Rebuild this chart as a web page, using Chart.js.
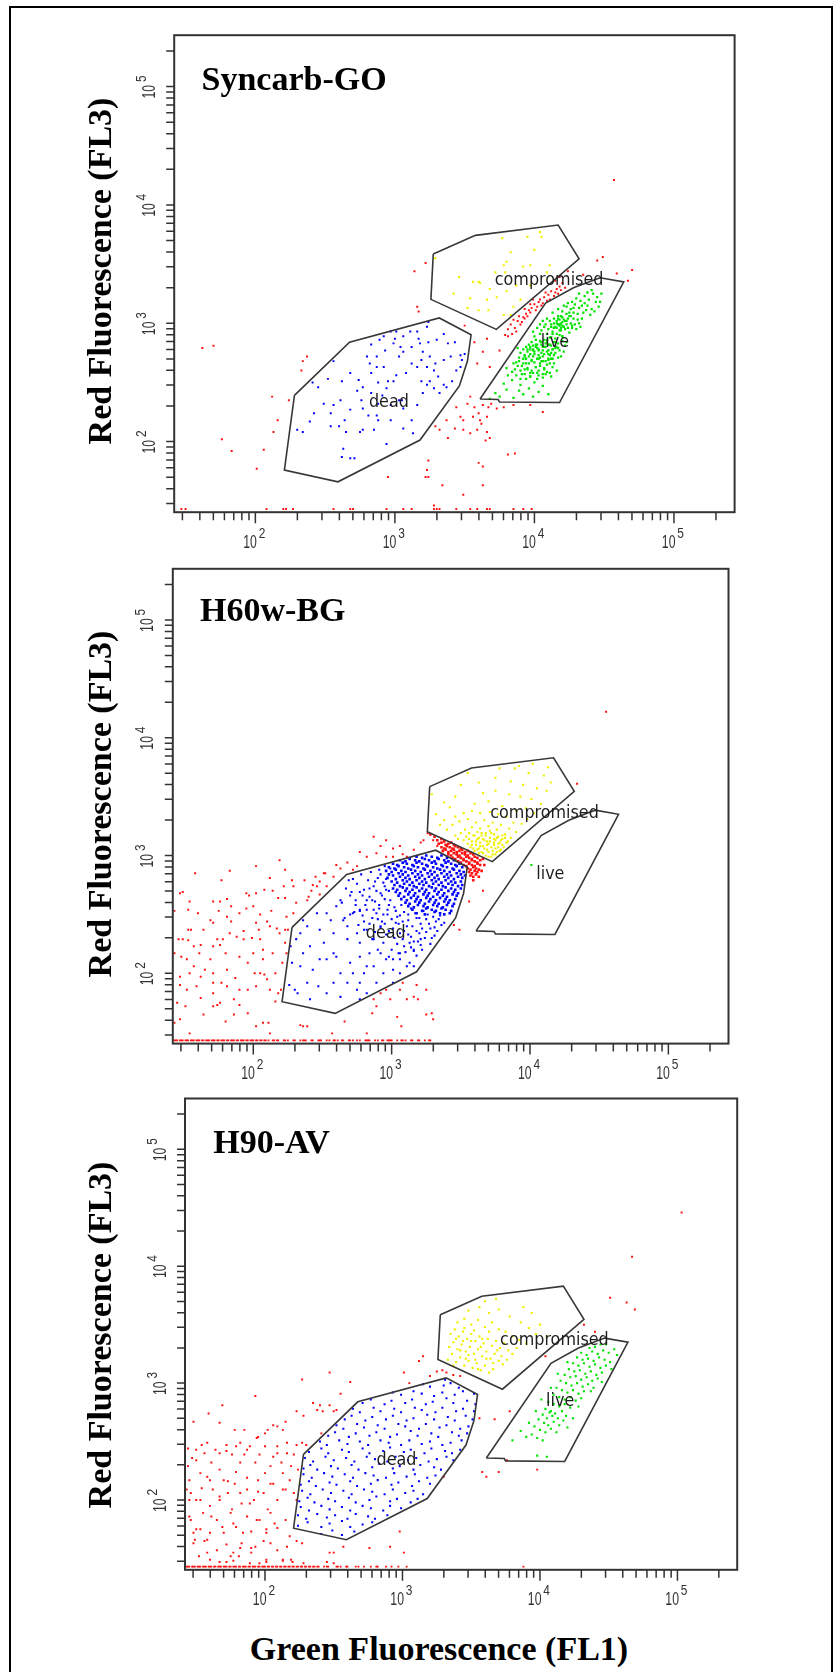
<!DOCTYPE html>
<html><head><meta charset="utf-8">
<script src="https://cdn.jsdelivr.net/npm/chart.js@4.4.1/dist/chart.umd.min.js"></script>
<style>
html,body{margin:0;padding:0;background:#fff;}
body{width:834px;height:1672px;position:relative;overflow:hidden;}
.border{position:absolute;left:9px;top:6px;width:820px;height:1700px;border:2px solid #000;border-bottom:none;}
canvas{position:absolute;left:0;}
.ttl{position:absolute;font-family:"Liberation Serif","Times New Roman",serif;font-weight:bold;font-size:34px;line-height:34px;white-space:nowrap;color:#000;}
.ylab{transform:translate(-50%,-50%) rotate(-90deg);}
.xlab{transform:translateX(-50%);}
</style></head>
<body>
<div class="border"></div>
<canvas id="c1" width="834" height="570" style="top:0px"></canvas>
<canvas id="c2" width="834" height="545" style="top:550px"></canvas>
<canvas id="c3" width="834" height="530" style="top:1095px"></canvas>
<div class="ttl" style="left:201.5px;top:61.5px">Syncarb-GO</div>
<div class="ttl" style="left:200px;top:593.2px">H60w-BG</div>
<div class="ttl" style="left:213.3px;top:1124.8px">H90-AV</div>
<div class="ttl ylab" style="left:99.5px;top:270.5px">Red Fluorescence (FL3)</div>
<div class="ttl ylab" style="left:99.5px;top:804px">Red Fluorescence (FL3)</div>
<div class="ttl ylab" style="left:99.5px;top:1335px">Red Fluorescence (FL3)</div>
<div class="ttl xlab" style="left:439px;top:1631.5px">Green Fluorescence (FL1)</div>
<script>
// ---- axis settings (values in fluorescence units) ----
const X_MIN = 26.2, Y_MIN = 25.3, AX_MAX = 272000;
const tickExponents = [2, 3, 4, 5];
const tickMultipliers = [1, 2, 3, 4, 5, 6, 7, 8, 9];
const tickDecades = [1, 2, 3, 4, 5];

// ---- gates: vertices as log10(value) ----
const gateDead = [[2.280,2.390],[2.675,2.840],[3.318,3.045],[3.546,2.903],[3.520,2.680],[3.462,2.470],[3.180,2.013],[2.592,1.660],[2.208,1.759]];
const gateCompromised = [[3.275,3.585],[3.577,3.743],[4.170,3.830],[4.320,3.545],[3.727,2.948],[3.258,3.202]];
const gateLive = [[3.610,2.360],[3.740,2.355],[3.750,2.335],[4.180,2.330],[4.640,3.350],[4.470,3.385],[4.280,3.300],[4.080,3.170]];
const gateLabels = [["compromised",4.105,3.322],["dead",2.957,2.296],["live",4.147,2.801]];

// ---- events: pairs of 100*log10(FL1), 100*log10(FL3) ----
const floorLog = 143;
// Panel 1 : Syncarb-GO
const p1Green = [368,236,372,241,375,238,380,244,378,249,385,237,389,243,392,240,384,252,390,248,396,245,399,238,403,242,394,253,387,256,381,256,400,250,406,247,410,240,397,258,
380,262,384,259,388,264,391,257,393,261,396,266,398,260,401,263,403,256,405,268,407,261,409,265,411,258,413,263,389,268,394,270,399,272,402,258,406,254,400,267,404,271,408,257,395,262,392,266,386,261,410,269,412,255,416,260,397,255,404,264,398,269,402,253,390,253,414,266,385,266,
390,275,393,272,395,278,397,274,399,281,400,276,402,279,403,273,405,282,406,277,407,274,408,280,409,284,410,277,411,273,412,281,413,278,414,284,415,275,416,280,417,283,418,277,419,272,420,285,398,284,401,286,404,285,396,282,394,280,392,278,388,279,410,270,406,268,403,270,413,270,417,271,421,276,422,281,407,286,411,288,415,287,418,290,400,289,404,291,409,291,413,293,420,289,423,284,405,275,409,276,412,275,402,282,408,283,415,279,397,278,399,278,401,280,403,277,406,280,410,282,
399,293,402,296,405,294,407,297,410,295,412,299,414,296,416,300,418,294,420,298,422,302,424,296,426,300,428,304,411,302,414,304,417,306,420,305,423,308,426,306,429,299,431,303,408,299,404,299,413,291,419,300,421,297,425,292,427,296,430,295,432,300,434,304,415,297,416,302,418,303,412,297,422,295,409,304,424,304,433,297,418,298,420,301,416,296,414,300,419,296,421,303,417,299,423,299,406,302,428,309,
413,309,417,312,420,310,423,314,426,312,429,316,432,313,435,309,438,315,441,312,444,318,427,318,430,321,433,319,436,323,439,320,442,325,424,317,421,315,419,306,425,309,431,308,437,311,434,315,440,307,443,310,446,314,428,313,432,325,436,317,445,322,447,318,438,326,441,328,448,325,
392,270,394,266,396,272,398,268,400,274,402,270,404,266,406,272,408,268,410,274,412,270,395,276,397,280,399,277,401,282,403,278,405,284,407,280,409,286,411,282,413,278,415,284,401,263,403,260,399,258,395,261,391,264,407,262,411,266,414,273,417,279,412,288,416,291,419,294,414,296,418,299,421,297,423,302,417,304,425,306,427,298,420,289,393,273,389,271,387,267,406,257,409,259,397,255,393,257,390,260];
const p1Yellow = [329,355,346,339,356,335,360,335,361,334,372,343,377,372,383,360,378,349,379,343,392,348,397,349,400,362,404,377,387,332,390,320,385,314,367,311,360,311,352,313,342,325,354,321,373,322,380,327,368,329,397,332,409,343,411,349,405,373,395,373,380,352,383,307,378,307,366,320];
const p1Blue = [301,293,306,289,300,287,311,293,323,297,324,301,292,289,289,286,283,282,299,283,293,277,303,272,318,283,324,284,330,286,320,276,325,272,329,266,323,263,319,269,316,263,335,269,340,272,347,273,348,269,328,260,331,255,325,251,319,251,323,248,335,248,328,245,320,241,316,231,306,228,303,235,295,251,299,251,288,250,287,263,292,263,282,266,283,258,294,245,274,252,277,246,273,243,262,251,252,253,256,268,241,250,256,231,277,228,281,222,287,222,288,232,297,218,306,211,294,198,285,210,277,210,275,208,265,208,260,213,254,213,234,208,230,210,239,217,263,194,262,187,268,186,271,186,312,218,313,207,305,235,332,241,337,246,341,251,301,256,308,258,312,266,306,276,304,280,312,280,297,293,335,291,338,283,343,284,350,274,347,263,344,260,316,293,317,287,287,272,280,272,268,258,261,235,245,246,249,232,242,224,254,224,264,218,268,227,276,235,283,241,291,239,297,231,288,218];
const p1Red = [383,299,386,296,388,302,390,299,392,305,385,303,389,306,391,301,394,308,396,311,393,304,395,306,398,313,400,316,397,309,401,311,403,318,405,315,402,314,404,320,407,322,409,319,406,317,410,324,412,327,414,323,411,320,416,329,418,331,415,326,420,334,422,330,419,328,417,325,387,293,384,291,381,295,379,290,399,320,408,326,
354,238,357,229,363,231,367,229,369,232,378,229,360,224,347,221,349,218,356,221,362,215,337,218,343,211,349,210,354,207,359,210,366,208,332,210,329,213,338,203,365,201,368,203,361,218,366,221,373,228,344,229,352,232,357,284,366,287,363,276,350,298,359,266,368,263,381,289,375,277,386,190,381,189,360,182,363,179,324,184,323,176,324,170,322,170,334,163,363,163,349,155,328,146,295,170,206,193,201,177,212,238,216,218,213,208,224,235,237,272,234,268,233,260,316,314,317,310,314,344,322,351,406,225,397,231,385,231,435,341,445,353,449,356,459,342,467,336,470,345,418,339,424,344,415,336,393,312,397,316,162,279,170,281,176,202,183,192,457,421];
const p1FloorX = [147,150,208,220,222,227,256,268,270,294,306,312,328,330,332,344,354,359,366,368,385,392,398];

// Panel 2 : H60w-BG
const p2BlueCore = [318,299,322,298,325,300,329,299,333,298,336,300,340,298,
306,296,310,295,313,297,317,296,320,295,324,297,327,296,331,295,334,297,338,296,341,295,345,296,
301,293,304,292,308,294,311,293,315,292,318,294,322,293,325,292,329,294,332,293,336,292,339,294,343,293,346,292,349,293,
298,290,302,289,305,291,309,290,312,289,316,291,319,290,323,289,326,291,330,290,333,289,337,291,340,290,344,289,347,291,351,290,
296,287,300,286,303,288,307,287,310,286,314,288,317,287,321,286,324,288,328,287,331,286,335,288,338,287,342,286,345,288,349,287,352,286,
298,284,301,283,305,285,308,284,312,283,315,285,319,284,322,283,326,285,329,284,333,283,336,285,340,284,343,283,347,285,350,284,353,283,
297,281,303,280,306,282,310,281,313,280,317,282,320,281,324,280,327,282,331,281,334,280,338,282,341,281,345,280,348,282,351,281,
300,278,304,277,308,279,311,278,315,277,318,279,322,278,325,277,329,279,332,278,336,277,339,279,343,278,346,277,350,278,
302,275,306,274,309,276,313,275,316,274,320,276,323,275,327,274,330,276,334,275,337,274,341,276,344,275,348,274,351,275,
301,272,304,271,308,273,311,272,315,271,318,273,322,272,325,271,329,273,332,272,336,271,339,273,343,272,346,271,350,272,
303,269,306,268,310,270,313,269,317,268,320,270,324,269,327,268,331,270,334,269,338,268,341,270,345,269,348,268,
305,266,309,265,312,267,316,266,319,265,323,267,326,266,330,265,333,267,337,266,340,265,344,267,347,266,
307,263,311,262,314,264,318,263,321,262,325,264,328,263,332,262,335,264,339,263,342,262,346,263,
310,260,313,259,317,261,320,260,324,259,327,261,331,260,334,259,338,261,341,260,345,259,
312,257,316,256,319,258,323,257,326,256,330,258,333,257,337,256,340,258,344,257,
315,254,322,253,325,255,329,254,332,253,336,255,339,254,343,253,
318,251,324,250,331,252,335,251,338,250,342,251];
const p2Blue = [272,280,275,276,278,284,280,271,283,279,285,286,287,274,290,281,292,268,294,277,296,271,270,266,274,262,277,269,281,258,284,265,288,261,291,255,295,263,298,258,273,252,279,249,282,254,286,247,289,251,293,244,297,250,300,246,303,253,306,249,276,241,280,237,284,242,288,235,292,239,296,233,301,238,305,242,309,236,312,245,315,240,318,247,321,242,325,246,328,238,332,244,335,249,338,243,308,229,312,233,316,227,320,234,324,230,328,225,331,232,304,225,300,220,310,218,314,222,318,215,322,220,294,226,298,214,306,212,290,220,286,229,270,250,267,272,269,279,264,260,266,247,299,289,295,291,291,288,
226,190,228,209,227,223,231,229,234,206,239,192,246,251,248,237,251,226,253,251,253,212,258,234,260,214,263,262,265,245,268,229,270,209,272,251,275,234,277,214,280,200,282,183,284,217,287,206,289,192,292,217,294,200,301,212,306,217,311,206,316,220,321,229,268,192,258,192,247,189,236,217,230,186,232,183,241,178,253,183,263,200,272,200,277,192,282,206,301,192,306,200,313,209,277,226,287,229,282,237,268,240,258,217,248,212,241,223,239,240,234,234,260,257,256,245,243,203,275,186,263,180,301,203,292,240,277,254,316,206,296,212,277,178,236,245,
286,262,289,270,291,258,293,266,295,274,297,254,299,262,298,270,294,250,290,246,287,254,284,272,288,278,292,284,296,280,282,262,302,256,304,248,307,258,309,252,303,243,308,244,312,250,314,255,317,251,320,247,323,253,326,250,330,248,334,246,336,241,331,239,327,242,322,238,318,236,314,231,311,240,306,234,302,230,298,236,295,242,319,227,325,235,329,230,333,236,313,226,309,223,305,217,316,219,321,224,280,244,277,253,274,258,279,266,271,269];
const p2Yellow = [355,310,357,307,358,312,360,304,361,309,362,314,363,306,364,311,365,303,366,308,367,313,368,300,369,305,370,310,371,315,372,299,373,304,374,309,375,313,376,303,377,307,378,311,379,305,380,309,352,313,354,316,356,319,359,317,362,320,365,317,368,319,371,321,374,318,377,316,380,314,383,311,350,319,348,314,346,317,353,322,358,324,364,323,370,325,376,322,382,318,386,315,366,302,370,299,363,302,375,301,
340,322,344,326,349,329,355,331,361,328,367,330,373,328,379,326,385,323,390,320,388,328,394,327,398,331,383,333,377,335,371,337,364,336,358,338,352,336,346,333,338,330,335,326,342,341,360,344,370,346,380,342,390,338,397,340,403,336,408,344,401,348,393,350,385,352,375,355,366,353,
350,360,363,362,375,366,386,363,395,360,405,357,412,355,415,362,410,368,399,370,389,374,378,374,346,350,338,345,402,378,413,375,392,376,332,335,329,352,355,370,
359,306,361,312,362,305,364,308,366,314,367,306,369,309,370,303,371,312,372,307,373,301,374,311,375,306,376,315,377,310,378,304,379,313,381,307,382,315,384,312,368,317,365,319,372,319,360,317,356,314,363,315,369,312,374,314,380,317,358,309];
const p2Green = [401,292];
const p2RedCluster = [333,313,336,314,338,312,334,310,336,311,339,309,341,310,343,311,345,309,336,307,338,306,340,308,342,307,344,306,346,308,348,307,350,306,337,304,339,305,341,303,343,304,345,305,347,303,349,304,351,305,353,303,355,304,341,301,343,300,345,302,347,301,349,300,351,302,353,301,355,300,357,302,359,301,344,298,346,297,348,299,350,298,352,297,354,299,356,298,358,297,360,299,362,298,348,295,350,294,352,296,354,295,356,294,358,296,360,295,362,294,364,296,352,292,354,291,356,293,358,292,360,291,362,293,364,292,355,289,357,288,359,290,361,289,363,288,356,286,358,285,360,287,362,286,357,283,359,282,361,284,331,316,328,318,366,297,367,292,365,287,363,282,359,279];
const p2Red = [239,262,242,270,246,274,248,278,251,285,245,282,237,279,240,265,248,267,253,274,258,282,263,289,268,294,275,291,277,303,287,316,292,308,296,299,301,306,306,308,311,299,316,305,321,311,326,319,323,313,330,313,333,308,296,313,308,301,301,299,282,299,289,302,272,288,260,292,252,285,243,275,219,296,223,288,202,291,183,287,177,279,158,285,147,268,149,269,154,261,143,253,164,237,155,237,171,261,175,253,181,263,184,244,190,251,195,268,197,266,200,257,204,237,205,250,208,271,210,244,213,253,214,270,217,238,219,234,223,237,225,237,224,248,229,251,231,260,229,274,218,264,205,229,196,209,190,214,187,196,181,189,177,192,171,192,169,212,165,203,161,217,157,223,153,237,152,212,147,197,145,175,147,161,143,158,154,149,164,165,176,175,180,159,186,165,190,173,196,186,201,200,205,200,208,199,212,186,216,176,218,183,220,186,224,217,221,209,214,217,207,220,200,217,193,229,188,231,183,234,178,229,174,229,169,245,160,251,149,229,146,229,143,217,157,206,171,172,202,155,211,158,212,149,236,155,239,155,257,149,266,159,282,149,286,166,304,163,307,155,316,180,325,186,318,190,325,165,306,186,329,166,330,161,319,178,311,178,345,241,349,237,356,261,366,270,434,361,455,422,
212,281,176,261,202,268,222,274,228,279,223,264,195,255,184,257,181,248,171,243,153,254,153,228,162,224,171,223,176,224,180,217,193,236,199,230,202,243,212,240,223,226,207,212,181,203,171,200,162,197,154,200,148,214,147,190,152,186,159,189,162,179,171,183,186,178,190,186,202,189,210,195,216,200,151,172,174,173,196,166,207,158,234,156,299,178,289,172,292,183,287,178,296,186,308,192];
const p2FloorX = [143,144,145,147,148,149,151,152,153,155,156,157,159,160,161,163,164,166,167,168,170,171,172,174,175,177,178,179,181,182,184,185,186,188,189,191,192,193,195,196,198,199,200,202,203,205,206,208,209,211,214,215,217,218,222,223,225,229,230,234,236,237,238,242,243,247,248,249,253,255,258,259,261,264,265,269,270,272,275,277,281,282,283,284,288,290,293,294,297,298,299,300,304,307,308,310,314,315,319,320,324,327,328];

// Panel 3 : H90-AV
const p3Green = [430,326,434,324,438,327,442,325,446,328,450,326,454,329,427,322,431,320,435,321,439,319,443,322,447,320,451,318,424,317,428,315,432,317,436,314,440,316,444,313,448,315,421,312,425,310,429,311,433,308,437,310,441,307,445,309,418,307,422,305,426,306,430,303,434,305,438,302,442,304,415,302,419,300,423,298,427,300,431,297,435,299,439,296,412,296,416,294,420,292,424,294,428,291,432,293,410,290,414,288,418,286,422,288,426,285,430,287,406,284,410,282,414,280,418,282,422,279,404,278,407,275,409,272,402,273,405,270,408,276,411,274,413,270,416,276,419,272,399,269,403,266,406,264,410,267,414,264,417,268,396,263,400,260,404,258,408,261,412,258,394,256,398,253,402,251,390,254,386,259,392,266,397,276,401,286,408,296,413,308,420,318,398,238,405,237,380,251,436,330,444,333,440,331,448,333,456,324,452,312,445,301,437,293,428,280,424,270,420,262];
const p3Yellow = [333,320,336,325,339,318,342,322,345,315,348,319,351,313,354,317,357,311,360,315,363,309,366,312,334,331,337,335,340,329,343,333,346,327,349,331,352,325,355,329,358,323,361,327,364,321,367,325,370,319,373,316,335,342,338,346,341,340,344,344,347,338,350,342,353,336,356,340,359,334,362,338,365,332,368,336,371,330,374,334,377,328,380,325,340,352,345,355,350,350,355,354,360,348,365,352,370,346,375,344,380,340,385,337,348,362,356,365,363,360,370,363,378,357,386,352,392,347,397,342,360,370,368,372,345,347,352,345,348,324,344,336,357,331,353,320,346,321,339,338,363,344,358,338,366,317,369,328,361,321,350,336,342,328,337,315,355,312,372,323,376,320,383,330,390,334,400,350,405,340,394,360,388,365];
const p3Blue = [241,171,249,174,256,170,265,173,
224,178,231,181,241,177,247,180,256,182,262,177,271,179,278,181,
224,187,230,184,238,188,245,185,251,187,260,184,266,188,275,186,280,184,289,187,
226,194,232,191,241,195,247,192,256,194,262,191,271,195,277,193,286,191,291,195,299,193,
225,199,231,202,236,198,246,201,251,199,261,202,266,198,276,200,281,203,291,199,296,201,306,198,311,201,
227,208,233,205,242,209,248,206,257,208,263,205,272,209,278,207,287,205,293,209,302,206,308,208,315,205,
226,213,232,216,237,212,247,215,252,213,262,216,267,212,277,214,282,217,292,213,297,215,307,212,312,216,320,214,
228,222,234,219,243,223,249,220,258,222,264,219,273,223,279,221,288,219,294,223,303,220,309,222,318,219,324,221,
228,227,233,230,238,226,248,229,253,227,263,230,268,226,278,228,283,231,293,227,298,229,308,226,313,230,323,228,328,226,
229,236,235,233,244,237,250,234,259,236,265,233,274,237,280,235,289,233,295,237,304,234,310,236,319,233,325,235,332,237,337,234,
232,241,241,244,246,240,256,243,261,241,271,244,276,240,286,242,291,245,301,241,306,243,316,240,321,244,331,242,336,240,342,243,
240,250,245,247,254,251,260,248,269,250,275,247,284,251,290,249,299,247,305,251,314,248,320,250,329,247,335,249,343,251,
246,255,251,258,261,254,266,257,276,255,281,258,291,254,296,256,306,259,311,255,321,257,326,254,336,258,341,255,347,257,
252,264,257,261,267,265,272,262,282,264,287,261,297,265,302,263,312,261,317,265,327,262,332,264,342,261,348,263,
258,269,263,272,273,268,278,271,288,269,293,272,303,268,308,270,318,273,323,269,333,271,338,268,346,272,351,269,
264,278,269,275,279,279,284,276,294,278,299,275,309,279,314,277,324,275,329,279,339,276,344,278,352,276,
271,283,277,286,287,282,292,285,302,283,307,286,317,282,322,284,332,287,337,283,347,285,353,282,
293,292,299,290,308,293,314,291,323,289,329,292,338,290,344,293,352,291,
315,299,320,297,330,298,335,300,341,296,331,303];
const p3Red = [148,267,159,274,169,281,167,266,178,260,185,260,193,289,195,254,202,260,209,263,215,267,223,276,227,303,228,272,235,283,238,277,242,276,247,309,247,281,252,277,255,291,262,301,230,247,227,249,241,257,
141,229,144,229,147,236,150,243,154,247,156,240,161,232,167,240,172,247,176,239,179,246,182,232,185,239,189,246,193,232,196,239,200,246,204,229,206,237,209,246,212,232,216,240,219,229,223,247,
143,209,145,217,150,200,154,210,158,220,162,209,167,200,170,217,173,206,178,214,183,197,187,209,192,200,195,217,199,206,204,214,209,200,213,209,218,217,221,206,224,226,223,200,
145,186,150,175,155,189,160,172,165,183,170,172,175,189,179,177,183,163,187,186,190,173,196,183,201,172,204,189,209,176,215,183,218,169,156,165,165,157,175,152,182,159,193,160,201,149,213,149,219,149,167,147,177,155,145,200,148,172,149,166,158,155,190,155,196,146,204,163,209,157,223,165,216,160,227,163,
247,155,257,160,250,146,276,159,298,173,291,160,301,155,301,309,305,300,312,319,315,323,320,306,325,310,329,311,332,309,337,307,342,306,356,270,378,276,367,269,358,224,361,220,370,224,398,226,330,220,404,323,432,350,440,344,451,373,463,369,469,363,467,408,503,446,376,234,
200,257,206,264,213,260,240,281,250,276,144,244,150,234,158,249,164,243,172,242,182,249,187,243,194,253,209,240,216,249,221,239,153,223,160,217,167,226,173,216,179,224,187,219,200,223,206,214,213,223,146,206,153,200,160,195,167,203,176,192,182,206,189,197,195,207,202,192,215,209,146,183,153,175,161,186,169,177,177,180,184,172,194,183,201,175,207,180,148,163,158,166,172,162,181,152,190,159,199,165,152,152,160,149,250,155,
172,147,177,148,189,146,201,147,213,148,220,147,228,146,245,147];
const p3FloorX = [143,144,145,147,148,149,151,152,153,155,156,157,159,160,161,163,164,166,167,168,170,171,172,174,175,177,178,179,181,182,184,185,186,188,189,191,192,193,195,196,198,199,200,202,203,205,206,208,209,211,212,214,215,217,218,220,221,223,224,226,227,229,230,232,233,235,236,238,239,243,245,246,252,253,255,259,260,266,268,272,277,281,282,288,292,297,303,388];

// ---- colours ----
const C_RED = '#ff1010', C_BLUE = '#0000ff', C_GREEN = '#00e400', C_YELLOW = '#f0f000', C_GATE = '#383838';

// ---- builders ----
const L = v => Math.pow(10, v / 100);
function pairs(a) { const o = []; for (let i = 0; i + 1 < a.length; i += 2) o.push({x: L(a[i]), y: L(a[i + 1])}); return o; }
function floorPts(xs) { return xs.map(v => ({x: L(v), y: L(floorLog)})); }
function gatePts(g) { return g.concat([g[0]]).map(p => ({x: Math.pow(10, p[0]), y: Math.pow(10, p[1])})); }
function pts(data, color, r, order) {
  return {data, pointStyle: 'rect', pointRadius: r, pointHoverRadius: r, pointBackgroundColor: color, pointBorderWidth: 0, showLine: false, order};
}
function gateDs(g) {
  return {data: gatePts(g), showLine: true, borderColor: C_GATE, borderWidth: 1.6, pointRadius: 0, pointHoverRadius: 0, fill: false, tension: 0, order: 0};
}

const FONT_T = '"Liberation Sans", Arial, sans-serif';
function xTickLabel(ctx, px, base, exp) {
  ctx.save(); ctx.translate(px, base); ctx.fillStyle = '#333';
  ctx.save(); ctx.scale(0.68, 1); ctx.font = '18px ' + FONT_T; ctx.textAlign = 'right'; ctx.textBaseline = 'alphabetic'; ctx.fillText('10', 1.5 / 0.68, 35.5); ctx.restore();
  ctx.save(); ctx.scale(0.85, 1); ctx.font = '14px ' + FONT_T; ctx.textAlign = 'left'; ctx.textBaseline = 'alphabetic'; ctx.fillText(String(exp), 3.4 / 0.85, 25.5); ctx.restore();
  ctx.restore();
}
function yTickLabel(ctx, left, py, exp) {
  ctx.save(); ctx.translate(left - 19.5, py); ctx.rotate(-Math.PI / 2); ctx.fillStyle = '#333';
  ctx.save(); ctx.scale(0.68, 1); ctx.font = '18px ' + FONT_T; ctx.textAlign = 'right'; ctx.textBaseline = 'alphabetic'; ctx.fillText('10', 1.7 / 0.68, 0); ctx.restore();
  ctx.save(); ctx.scale(0.85, 1); ctx.font = '14px ' + FONT_T; ctx.textAlign = 'left'; ctx.textBaseline = 'alphabetic'; ctx.fillText(String(exp), 4.5 / 0.85, -8.3); ctx.restore();
  ctx.restore();
}

const fcsAxes = {
  id: 'fcsAxes',
  afterDraw(chart) {
    const {ctx, chartArea: a} = chart;
    const sx = chart.scales.x, sy = chart.scales.y;
    ctx.save();
    ctx.fillStyle = '#1e1e1e';
    ctx.font = '17px "DejaVu Sans", Verdana, sans-serif';
    ctx.textAlign = 'center'; ctx.textBaseline = 'alphabetic';
    gateLabels.forEach(([t, lx, ly]) => {
      const px = sx.getPixelForValue(Math.pow(10, lx)), py = sy.getPixelForValue(Math.pow(10, ly));
      ctx.save(); ctx.translate(px, py); ctx.scale(0.94, 1); ctx.fillText(t, 0, 0); ctx.restore();
    });
    ctx.strokeStyle = '#333'; ctx.lineWidth = 2;
    ctx.strokeRect(a.left, a.top, a.right - a.left, a.bottom - a.top);
    ctx.lineWidth = 1.5; ctx.beginPath();
    tickDecades.forEach(d => tickMultipliers.forEach(k => {
      const v = k * Math.pow(10, d);
      if (v > X_MIN && v < AX_MAX) {
        const px = sx.getPixelForValue(v);
        ctx.moveTo(px, a.bottom); ctx.lineTo(px, a.bottom + (k === 1 ? 11 : 8));
      }
      if (v > Y_MIN && v < AX_MAX) {
        const py = sy.getPixelForValue(v);
        ctx.moveTo(a.left, py); ctx.lineTo(a.left - 8, py);
      }
    }));
    ctx.stroke();
    tickExponents.forEach(e => {
      const v = Math.pow(10, e);
      xTickLabel(ctx, sx.getPixelForValue(v), a.bottom, e);
      yTickLabel(ctx, a.left, sy.getPixelForValue(v), e);
    });
    ctx.restore();
  }
};

function makeChart(id, datasets, pad) {
  return new Chart(document.getElementById(id), {
    type: 'scatter',
    data: {datasets: [gateDs(gateDead), gateDs(gateCompromised), gateDs(gateLive)].concat(datasets)},
    options: {
      responsive: false, animation: false, events: [],
      layout: {padding: pad},
      plugins: {legend: {display: false}, tooltip: {enabled: false}, title: {display: false}},
      scales: {
        x: {type: 'logarithmic', min: X_MIN, max: AX_MAX, display: false, bounds: 'data'},
        y: {type: 'logarithmic', min: Y_MIN, max: AX_MAX, display: false, bounds: 'data'}
      }
    },
    plugins: [fcsAxes]
  });
}

makeChart('c1', [
  pts(pairs(p1Green), C_GREEN, 1.6, 1),
  pts(pairs(p1Yellow), C_YELLOW, 1.5, 2),
  pts(pairs(p1Blue), C_BLUE, 1.4, 3),
  pts(pairs(p1Red), C_RED, 1.4, 5),
  pts(floorPts(p1FloorX), C_RED, 1.3, 5)
], {left: 174.2, top: 35.2, right: 834 - 734.6, bottom: 570 - 512.2});

makeChart('c2', [
  pts(pairs(p2Green), C_GREEN, 1.5, 1),
  pts(pairs(p2Yellow), C_YELLOW, 1.5, 2),
  pts(pairs(p2BlueCore), C_BLUE, 1.85, 3),
  pts(pairs(p2Blue), C_BLUE, 1.45, 3),
  pts(pairs(p2RedCluster), C_RED, 1.85, 4),
  pts(pairs(p2Red), C_RED, 1.4, 5),
  pts(floorPts(p2FloorX), C_RED, 1.3, 5)
], {left: 172.8, top: 568.8 - 550, right: 834 - 728.5, bottom: 1095 - 1043.6});

makeChart('c3', [
  pts(pairs(p3Green), C_GREEN, 1.5, 1),
  pts(pairs(p3Yellow), C_YELLOW, 1.5, 2),
  pts(pairs(p3Blue), C_BLUE, 1.45, 3),
  pts(pairs(p3Red), C_RED, 1.4, 5),
  pts(floorPts(p3FloorX), C_RED, 1.3, 5)
], {left: 185, top: 1098.5 - 1095, right: 834 - 737.2, bottom: 1625 - 1569.8});
</script>
</body></html>
